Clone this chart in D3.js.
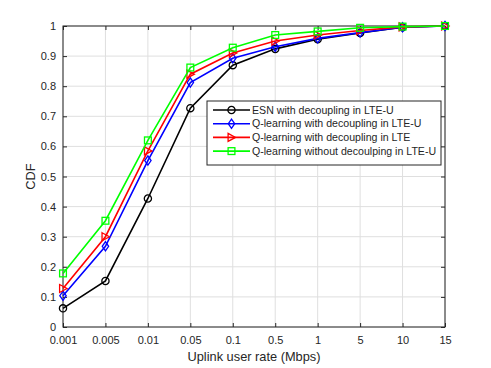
<!DOCTYPE html>
<html>
<head>
<meta charset="utf-8">
<script src="https://cdn.jsdelivr.net/npm/d3@7"></script>
<style>
  body { margin: 0; background: #fff; }
  text { font-family: "Liberation Sans", Arial, sans-serif; }
</style>
</head>
<body>
<div id="chart"></div>
<script>
// Uplink rate CDF, categorical x axis (MATLAB style)
let svgWidth = 491;
let svgHeight = 368;

let margin = { top: 26, right: 46, bottom: 41, left: 63 };
let width = svgWidth - margin.left - margin.right;
let height = svgHeight - margin.top - margin.bottom;

// data
let rates = ["0.001", "0.005", "0.01", "0.05", "0.1", "0.5", "1", "5", "10", "15"];
let yTicks = [0, 0.1, 0.2, 0.3, 0.4, 0.5, 0.6, 0.7, 0.8, 0.9, 1];

let esnDecoupLteu = [0.062, 0.153, 0.427, 0.727, 0.870, 0.924, 0.956, 0.977, 0.996, 1.0];
let qDecoupLteu   = [0.104, 0.268, 0.553, 0.812, 0.893, 0.931, 0.959, 0.978, 0.996, 1.0];
let qDecoupLte    = [0.128, 0.300, 0.585, 0.840, 0.910, 0.950, 0.970, 0.985, 0.997, 1.0];
let qNoDecoupLteu = [0.178, 0.353, 0.620, 0.862, 0.928, 0.970, 0.982, 0.994, 0.998, 1.0];

let series = [
    { name: "ESN with decoupling in LTE-U", values: esnDecoupLteu, color: "#000000", marker: "circle" },
    { name: "Q-learning with decoupling in LTE-U", values: qDecoupLteu, color: "#0000ff", marker: "diamond" },
    { name: "Q-learning with decoupling in LTE", values: qDecoupLte, color: "#ff0000", marker: "triangle" },
    { name: "Q-learning without decoulping in LTE-U", values: qNoDecoupLteu, color: "#00ff00", marker: "square" }
];

let svg = d3.select("#chart")
    .append("svg")
    .attr("width", svgWidth)
    .attr("height", svgHeight);

let chartGroup = svg.append("g")
    .attr("transform", `translate(${margin.left}, ${margin.top})`);

let xScale = d3.scalePoint()
    .domain(rates)
    .range([0, width]);

let yScale = d3.scaleLinear()
    .domain([0, 1])
    .range([height, 0]);

// grid
chartGroup.append("g")
    .selectAll("line.gx")
    .data(rates)
    .join("line")
    .attr("x1", d => xScale(d)).attr("x2", d => xScale(d))
    .attr("y1", 0).attr("y2", height)
    .attr("stroke", "#dfdfdf").attr("stroke-width", 1);

chartGroup.append("g")
    .selectAll("line.gy")
    .data(yTicks)
    .join("line")
    .attr("x1", 0).attr("x2", width)
    .attr("y1", d => yScale(d)).attr("y2", d => yScale(d))
    .attr("stroke", "#dfdfdf").attr("stroke-width", 1);

// axes, ticks inside
let axisColor = "#262626";
function styleAxis(g) {
    g.select(".domain").remove();
    g.selectAll("line").attr("stroke", axisColor);
    g.selectAll("text").attr("fill", axisColor).style("font-size", "11px");
}

chartGroup.append("g")
    .attr("transform", `translate(0, ${height})`)
    .call(d3.axisBottom(xScale).tickSizeInner(-4).tickSizeOuter(0).tickPadding(9))
    .call(styleAxis);

chartGroup.append("g")
    .call(d3.axisTop(xScale).tickSizeInner(-4).tickSizeOuter(0).tickFormat(""))
    .call(styleAxis);

chartGroup.append("g")
    .call(d3.axisLeft(yScale).tickValues(yTicks).tickFormat(d3.format("")).tickSizeInner(-4).tickSizeOuter(0).tickPadding(7))
    .call(styleAxis);

chartGroup.append("g")
    .attr("transform", `translate(${width}, 0)`)
    .call(d3.axisRight(yScale).tickValues(yTicks).tickFormat("").tickSizeInner(-4).tickSizeOuter(0))
    .call(styleAxis);

chartGroup.append("rect")
    .attr("width", width).attr("height", height)
    .attr("fill", "none").attr("stroke", axisColor).attr("stroke-width", 1);

// markers
function drawMarker(g, type, color) {
    if (type === "circle") {
        g.append("circle").attr("r", 3.6);
    } else if (type === "diamond") {
        g.append("path").attr("d", "M0,-4.6L3.2,0L0,4.6L-3.2,0Z");
    } else if (type === "triangle") {
        g.append("path").attr("d", "M-3.4,-4L4,0L-3.4,4Z");
    } else {
        g.append("rect").attr("x", -3.4).attr("y", -3.4).attr("width", 6.8).attr("height", 6.8);
    }
    g.selectAll("*").attr("fill", "none").attr("stroke", color).attr("stroke-width", 1.3);
}

let line = d3.line()
    .x((d, i) => xScale(rates[i]))
    .y(d => yScale(d));

series.forEach(s => {
    chartGroup.append("path")
        .datum(s.values)
        .attr("fill", "none")
        .attr("stroke", s.color)
        .attr("stroke-width", 1.6)
        .attr("d", line);

    s.values.forEach((v, i) => {
        let g = chartGroup.append("g")
            .attr("transform", `translate(${xScale(rates[i])}, ${yScale(v)})`);
        drawMarker(g, s.marker, s.color);
    });
});

// legend
let legend = svg.append("g").attr("transform", "translate(207, 101)");
legend.append("rect")
    .attr("width", 234).attr("height", 64)
    .attr("fill", "#fff").attr("stroke", axisColor).attr("stroke-width", 1);

series.forEach((s, i) => {
    let row = legend.append("g").attr("transform", `translate(0, ${9 + i * 13.7})`);
    row.append("line")
        .attr("x1", 6).attr("x2", 43)
        .attr("stroke", s.color).attr("stroke-width", 1.6);
    let m = row.append("g").attr("transform", "translate(24.5, 0)");
    drawMarker(m, s.marker, s.color);
    row.append("text")
        .attr("x", 45).attr("y", 0)
        .attr("dy", "0.35em")
        .attr("fill", axisColor)
        .style("font-size", "10.6px")
        .text(s.name);
});

// axis labels
svg.append("text")
    .attr("x", margin.left + width / 2)
    .attr("y", 361)
    .attr("text-anchor", "middle")
    .attr("fill", axisColor)
    .style("font-size", "12.8px")
    .text("Uplink user rate (Mbps)");

svg.append("text")
    .attr("transform", `translate(35, ${margin.top + height / 2}) rotate(-90)`)
    .attr("text-anchor", "middle")
    .attr("fill", axisColor)
    .style("font-size", "12.8px")
    .text("CDF");
</script>
</body>
</html>
